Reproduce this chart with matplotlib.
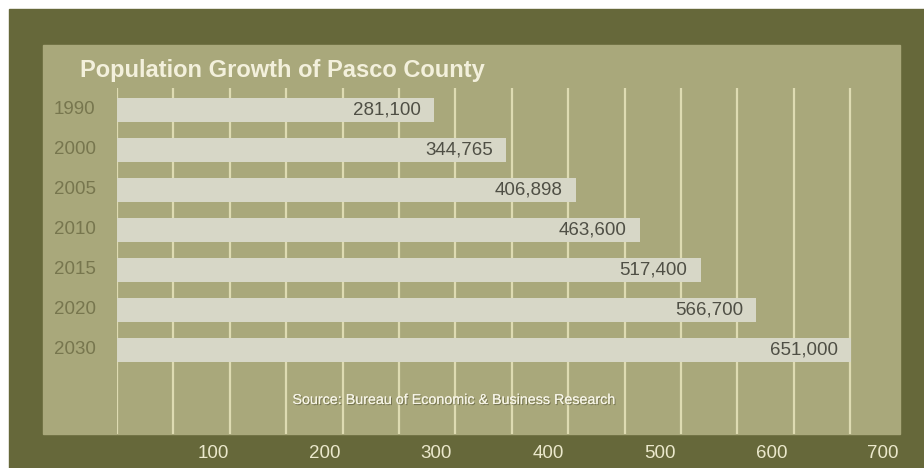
#
# Horizontal bar chart: population growth of Pasco County
#

import matplotlib
matplotlib.use("Agg")
import matplotlib.pyplot as plt
import matplotlib.patheffects as pe
from matplotlib.patches import Rectangle
from matplotlib.transforms import blended_transform_factory
import numpy as np

years = ["1990", "2000", "2005", "2010", "2015", "2020", "2030"]
population = [281100, 344765, 406898, 463600, 517400, 566700, 651000]
scale_ticks = [100, 200, 300, 400, 500, 600, 700]
grid_step = 50

DARK = "#66683a"
PANEL = "#a9a87b"
BAR = "#d7d7c7"
GRID = "#dedbb2"
CREAM = "#f3f0dc"

W, H = 924, 468
plt.rcParams["font.family"] = ["Liberation Sans", "DejaVu Sans"]

fig = plt.figure(figsize=(W / 100, H / 100), dpi=100)
fig.patch.set_facecolor("white")


def px(x0, y0, x1, y1):
    """Pixel box (top-left origin) -> figure fraction rect."""
    return [x0 / W, 1 - y1 / H, (x1 - x0) / W, (y1 - y0) / H]


# Dark frame and lighter inner panel
for rect, colour in [(px(9, 9, W, H), DARK), (px(43, 45, 900, 434), PANEL)]:
    fig.patches.append(Rectangle(rect[:2], rect[2], rect[3], color=colour,
                                 transform=fig.transFigure, zorder=-10))

ax = fig.add_axes(px(117, 88, 900, 434))
ax.patch.set_visible(False)
for s in ax.spines.values():
    s.set_visible(False)

values = np.array(population) / 1000
ypos = np.arange(len(years))
ax.barh(ypos, values, height=0.61, color=BAR, zorder=2)

ax.set_xlim(0, (900 - 117) / 1.128)
ax.set_ylim(len(years) + 1.1, -0.55)
ax.set_xticks(np.arange(0, 651, grid_step))
ax.grid(axis="x", color=GRID, linewidth=1.6)
ax.set_axisbelow(True)
ax.tick_params(length=0, labelbottom=False, labelleft=False)
ax.set_yticks([])

for y, v, p in zip(ypos, values, population):
    ax.annotate(f"{p:,}", (v, y), xytext=(-9.5, 0), textcoords="offset points",
                ha="right", va="center", fontsize=13.5, color="#4f4f45",
                zorder=3)

# Year labels sit in the left margin of the panel
trans = blended_transform_factory(fig.transFigure, ax.transData)
for y, yr in zip(ypos, years):
    ax.text(54 / W, y, yr, transform=trans, ha="left", va="center",
            fontsize=13.5, color="#77764e")

# Scale along the bottom of the frame
tick_ax = fig.add_axes(px(117, 88, 900, 434))
tick_ax.patch.set_visible(False)
for s in tick_ax.spines.values():
    s.set_visible(False)
tick_ax.set_xlim(14, 715)
tick_ax.set_xticks(scale_ticks, labels=[str(t) for t in scale_ticks])
tick_ax.set_yticks([])
tick_ax.tick_params(axis="x", length=0, pad=8, labelsize=13.5,
                    labelcolor="#ebe8cc")

fig.text(80 / W, 1 - 77 / H, "Population Growth of Pasco County",
         fontsize=17, fontweight="bold", color=CREAM, va="baseline")

fig.text(454 / W, 1 - 400 / H, "Source: Bureau of Economic & Business Research",
         fontsize=10.3, color="#f6f4e6", ha="center", va="center",
         path_effects=[pe.withSimplePatchShadow(offset=(0.8, -0.8),
                                                shadow_rgbFace="#5f5e40",
                                                alpha=0.7),
                       pe.Normal()])

fig.savefig("out.png", dpi=100)
